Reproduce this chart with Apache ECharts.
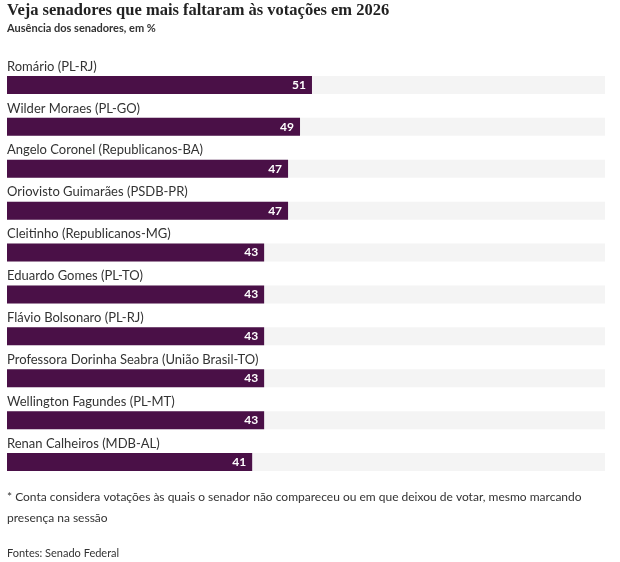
<!DOCTYPE html>
<html><head><meta charset="utf-8">
<script src="https://cdn.jsdelivr.net/npm/echarts@6/dist/echarts.min.js"></script>
<style>html,body{margin:0;padding:0;background:#fff}#c{width:620px;height:562px}</style>
</head><body><div id="c"></div>
<script>
const categories = ["Romário (PL-RJ)","Wilder Moraes (PL-GO)","Angelo Coronel (Republicanos-BA)","Oriovisto Guimarães (PSDB-PR)","Cleitinho (Republicanos-MG)","Eduardo Gomes (PL-TO)","Flávio Bolsonaro (PL-RJ)","Professora Dorinha Seabra (União Brasil-TO)","Wellington Fagundes (PL-MT)","Renan Calheiros (MDB-AL)"];
const values = [51,49,47,47,43,43,43,43,43,41];
const fullScale = 100;
const titleText = "Veja senadores que mais faltaram às votações em 2026";
const subtitleText = "Ausência dos senadores, em %";
const noteText = "* Conta considera votações às quais o senador não compareceu ou em que deixou de votar, mesmo marcando presença na sessão";
const sourceText = "Fontes: Senado Federal";

const chart = echarts.init(document.getElementById('c'), null, {renderer:'canvas'});
chart.setOption({
  animation:false,
  title:[
    {text:titleText,left:7,top:2,padding:0,textStyle:{fontFamily:'Liberation Serif',fontWeight:'bold',fontSize:16.5,color:'#222'}},
    {text:subtitleText,left:7,top:23,padding:0,textStyle:{fontFamily:'Lato',fontWeight:'bold',fontSize:11,color:'#333'}},
    {text:noteText,left:7,top:487,padding:0,textStyle:{fontFamily:'Lato',fontWeight:'normal',fontSize:12,color:'#333',width:605,overflow:'break',lineHeight:21}},
    {text:sourceText,left:7,top:548,padding:0,textStyle:{fontFamily:'Lato',fontWeight:'normal',fontSize:11,color:'#333'}}
  ],
  grid:{left:7,right:15,top:64,height:419,containLabel:false},
  xAxis:{type:'value',min:0,max:fullScale,show:false},
  yAxis:{type:'category',data:categories,inverse:true,show:false},
  series:[
    {type:'bar',data:categories.map(()=>fullScale),barWidth:18,barGap:'-100%',silent:true,
     itemStyle:{color:'#f4f4f4'},
     label:{show:true,position:[0,-16],formatter:'{b}',fontFamily:'Lato',fontSize:13,color:'#333'}},
    {type:'bar',data:values,barWidth:18,
     itemStyle:{color:'#4a1047'},
     label:{show:true,position:'insideRight',distance:6,fontFamily:'Lato',fontWeight:'bold',fontSize:12,color:'#fff'}}
  ]
});
</script></body></html>
